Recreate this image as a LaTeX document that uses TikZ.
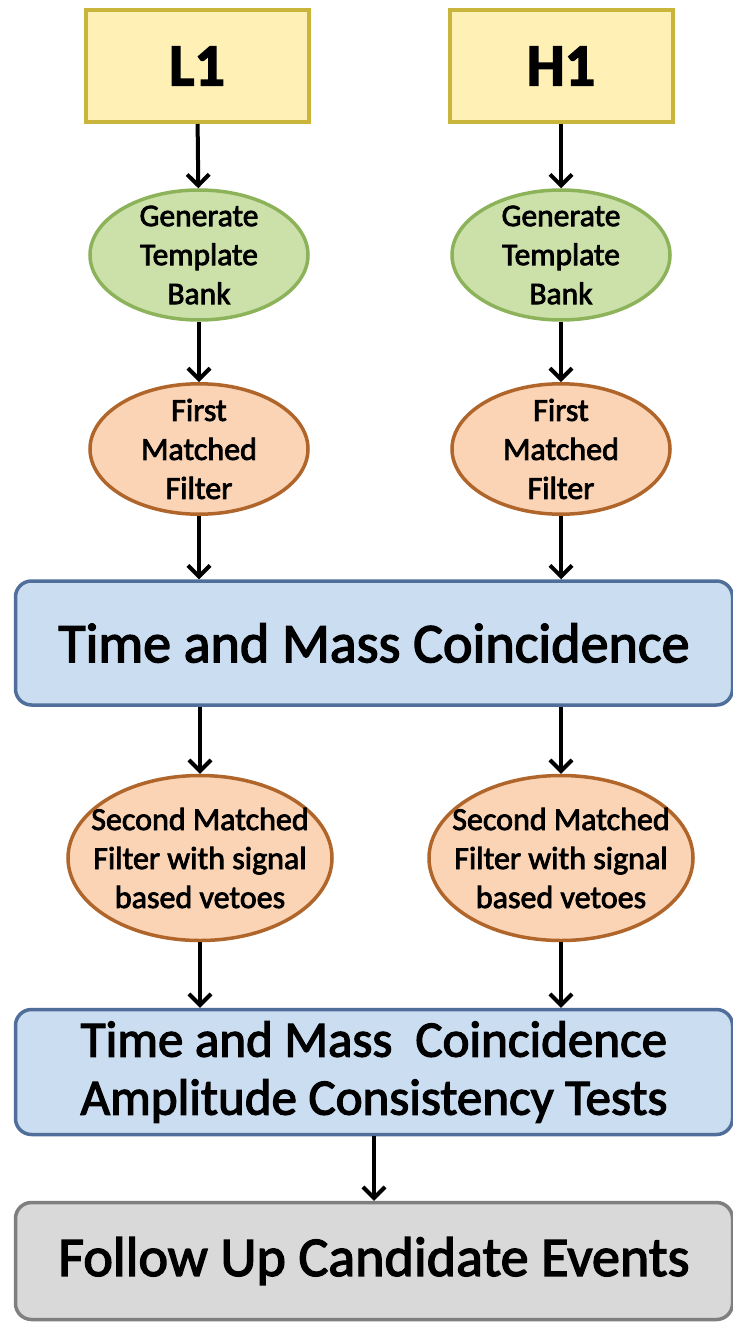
\documentclass[tikz,border=0pt]{standalone}
\usepackage{fontspec}
\setmainfont{Carlito}[FakeBold=2.5]
\usetikzlibrary{shapes.geometric,arrows.meta}
\definecolor{yfill}{HTML}{FFF1B5}
\definecolor{ydraw}{HTML}{C9B43C}
\definecolor{gfill}{HTML}{CCE0AA}
\definecolor{gdraw}{HTML}{8DB35A}
\definecolor{ofill}{HTML}{FBD4B6}
\definecolor{odraw}{HTML}{B0652A}
\definecolor{bfill}{HTML}{CADDF1}
\definecolor{bdraw}{HTML}{4F6F9A}
\definecolor{kfill}{HTML}{D9D9D9}
\definecolor{kdraw}{HTML}{7F7F7F}
\tikzset{
  detbox/.style={draw=ydraw,fill=yfill,line width=4pt,minimum width=223pt,minimum height=112pt,inner sep=0pt,font=\fontsize{60}{60}\selectfont\bfseries},
  genell/.style={ellipse,draw=gdraw,fill=gfill,line width=3.5pt,minimum width=218pt,minimum height=130pt,inner xsep=0pt,inner ysep=-4pt,align=center,font=\fontsize{31.5}{39}\selectfont},
  filtell/.style={ellipse,draw=odraw,fill=ofill,line width=3.5pt,inner xsep=0pt,inner ysep=-4pt,align=center,font=\fontsize{32}{39}\selectfont},
  wide/.style={draw=bdraw,fill=bfill,line width=3.5pt,rounded corners=16pt,minimum width=717pt,inner sep=0pt,align=center,font=\fontsize{56}{58}\selectfont},
  flow/.style={line width=4pt,-{Straight Barb[length=11pt,width=22pt]}}
}
\begin{document}
\begin{tikzpicture}[x=1pt,y=-1pt]
\fill[white] (0,0) rectangle (733,1327);
\useasboundingbox (0,0) rectangle (733,1327);
\node[detbox] (l1) at (197,66) {L1};
\node[detbox] (h1) at (561,66) {H1};
\node[genell] (gl) at (199,255) {Generate\\Template\\Bank};
\node[genell] (gh) at (561,255) {Generate\\Template\\Bank};
\node[filtell,minimum width=218pt,minimum height=128pt] (fl) at (199,449) {First\\Matched\\Filter};
\node[filtell,minimum width=218pt,minimum height=128pt] (fh) at (561,449) {First\\Matched\\Filter};
\node[wide,minimum height=124pt] (tm) at (374,643) {Time and Mass Coincidence};
\node[filtell,inner xsep=-20pt,minimum width=264pt,minimum height=165pt] (sl) at (200,858) {Second Matched\\Filter with signal\\based vetoes};
\node[filtell,inner xsep=-20pt,minimum width=264pt,minimum height=165pt] (sh) at (561,858) {Second Matched\\Filter with signal\\based vetoes};
\node[wide,minimum height=125pt,font=\fontsize{51}{58}\selectfont] (ta) at (374,1072) {Time and Mass~ Coincidence\\Amplitude Consistency Tests};
\node[wide,draw=kdraw,fill=kfill,minimum height=117pt,font=\fontsize{56}{58}\selectfont] (fu) at (374,1261) {Follow Up Candidate Events};
\draw[flow] (l1) -- (gl);
\draw[flow] (h1) -- (gh);
\draw[flow] (gl) -- (fl);
\draw[flow] (gh) -- (fh);
\draw[flow] (fl.south) -- (fl.south |- tm.north);
\draw[flow] (fh.south) -- (fh.south |- tm.north);
\draw[flow] (tm.south -| sl.north) -- (sl.north);
\draw[flow] (tm.south -| sh.north) -- (sh.north);
\draw[flow] (sl.south) -- (sl.south |- ta.north);
\draw[flow] (sh.south) -- (sh.south |- ta.north);
\draw[flow] (ta) -- (fu);
\end{tikzpicture}
\end{document}
